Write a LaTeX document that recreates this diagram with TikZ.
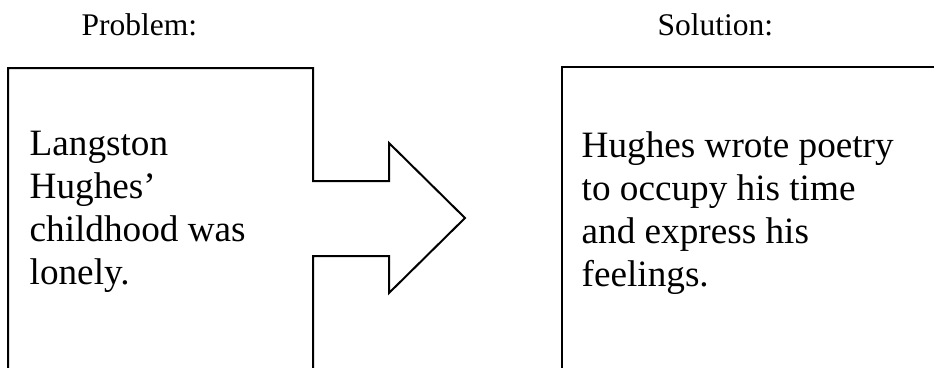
\documentclass[tikz,border=0pt]{standalone}
\usepackage{fontspec}
\setmainfont{Liberation Serif}
\begin{document}
\begin{tikzpicture}[x=1pt,y=-1pt,
  outline/.style={draw=black,line width=2pt,line join=miter},
  title/.style={inner sep=0pt,anchor=base west,font=\fontsize{31.5}{36}\selectfont},
  body/.style={inner sep=0pt,anchor=north west,align=left,font=\fontsize{37.2}{43}\selectfont}]
\useasboundingbox (0,0) rectangle (934,367);
\node[title] (ptitle) at (81.5,35) {Problem:};
\node[title] (stitle) at (657.5,35) {Solution:};
% problem box joined with arrow
\coordinate (pbl) at (8,372);
\coordinate (ptl) at (8,68);
\coordinate (ptr) at (313,68);
\coordinate (n1) at (313,181);
\coordinate (s1) at (389,181);
\coordinate (h1) at (389,143);
\coordinate (tip) at (465,218);
\coordinate (h2) at (389,293);
\coordinate (s2) at (389,256);
\coordinate (n2) at (313,256);
\coordinate (pbr) at (313,372);
\draw[outline] (pbl) -- (ptl) -- (ptr) -- (n1) -- (s1) -- (h1) -- (tip) -- (h2) -- (s2) -- (n2) -- (pbr);
% solution box
\coordinate (sbl) at (562,372);
\coordinate (stl) at (562,67);
\coordinate (str) at (940,67);
\draw[outline] (sbl) -- (stl) -- (str);
\node[body] (ptext) at (29.5,131) {Langston\\Hughes’\\childhood was\\lonely.};
\node[body] (stext) at (581.5,131.5) {Hughes wrote poetry\\to occupy his time\\and express his\\feelings.};
\end{tikzpicture}
\end{document}
